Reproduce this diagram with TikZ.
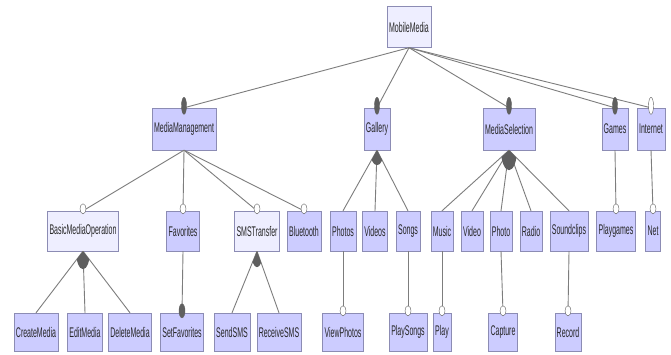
\documentclass[tikz,border=0pt]{standalone}
\usepackage{fontspec}
\newfontfamily\featfont{Liberation Sans}[FakeStretch=0.5]
\usepackage{tikz}
\usetikzlibrary{shapes.geometric, positioning}

\definecolor{featfill}{RGB}{204,204,255}
\definecolor{rootfill}{RGB}{238,238,255}
\definecolor{featline}{RGB}{140,140,180}
\definecolor{edgegray}{RGB}{125,125,125}
\definecolor{markgray}{RGB}{95,95,95}

\begin{document}
\begin{tikzpicture}[
    x=1pt, y=-1pt,
    feature/.style={rectangle, draw=featline, fill=featfill, minimum height=40pt, inner xsep=2pt, font=\featfont\fontsize{14}{16}\selectfont, text=black!85},
    plain/.style={feature, fill=rootfill},
    edge/.style={draw=edgegray, line width=0.9pt},
    mandatory/.style={ellipse, draw=markgray, fill=markgray, inner sep=0pt, minimum width=6pt, minimum height=10pt, yshift=2pt},
    optional/.style={mandatory, fill=white},
    topmark/.style={minimum width=5pt, minimum height=17pt, yshift=0pt},
    group/.style={fill=markgray}
]
\useasboundingbox[fill=white] (0,0) rectangle (671,354);

% root
\node[plain, minimum height=41pt] (mobilemedia) at (409,27) {MobileMedia};

% level 1
\node[feature, minimum height=42pt] (mediamgmt) at (184,129) {MediaManagement};
\node[feature, minimum height=42pt] (gallery) at (377,129) {Gallery};
\node[feature, minimum height=42pt] (mediasel) at (509,129) {MediaSelection};
\node[feature, minimum height=42pt] (games) at (615,129) {Games};
\node[feature, minimum height=42pt] (internet) at (651,129) {Internet};

% level 2
\node[plain] (basicop) at (83,231) {BasicMediaOperation};
\node[feature] (favorites) at (183,231) {Favorites};
\node[plain] (smstransfer) at (257,231) {SMSTransfer};
\node[feature] (bluetooth) at (304,231) {Bluetooth};
\node[feature] (photos) at (343,231) {Photos};
\node[feature] (videos) at (375,231) {Videos};
\node[feature] (songs) at (408,231) {Songs};
\node[feature] (music) at (442,231) {Music};
\node[feature] (video) at (472,231) {Video};
\node[feature] (photo) at (501,231) {Photo};
\node[feature] (radio) at (531,231) {Radio};
\node[feature] (soundclips) at (569,231) {Soundclips};
\node[feature] (playgames) at (616,231) {Playgames};
\node[feature] (net) at (653,231) {Net};

% level 3
\node[feature, minimum height=38pt] (createmedia) at (36,332) {CreateMedia};
\node[feature, minimum height=38pt] (editmedia) at (85,332) {EditMedia};
\node[feature, minimum height=38pt] (deletemedia) at (130,332) {DeleteMedia};
\node[feature, minimum height=38pt] (setfav) at (182,332) {SetFavorites};
\node[feature, minimum height=38pt] (sendsms) at (232,332) {SendSMS};
\node[feature, minimum height=38pt] (receivesms) at (279,332) {ReceiveSMS};
\node[feature, minimum height=38pt] (viewphotos) at (343,332) {ViewPhotos};
\node[feature, minimum height=38pt] (playsongs) at (408,332) {PlaySongs};
\node[feature, minimum height=38pt] (play) at (442,332) {Play};
\node[feature, minimum height=38pt] (capture) at (503,332) {Capture};
\node[feature, minimum height=38pt] (record) at (568,332) {Record};

% Edges
\draw[edge] (mobilemedia.south) -- (mediamgmt.north);
\draw[edge] (mobilemedia.south) -- (gallery.north);
\draw[edge] (mobilemedia.south) -- (mediasel.north);
\draw[edge] (mobilemedia.south) -- (games.north);
\draw[edge] (mobilemedia.south) -- (internet.north);

\draw[edge] (mediamgmt.south) -- (basicop.north);
\draw[edge] (mediamgmt.south) -- (favorites.north);
\draw[edge] (mediamgmt.south) -- (smstransfer.north);
\draw[edge] (mediamgmt.south) -- (bluetooth.north);
\draw[edge] (gallery.south) -- (photos.north);
\draw[edge] (gallery.south) -- (videos.north);
\draw[edge] (gallery.south) -- (songs.north);
\draw[edge] (mediasel.south) -- (music.north);
\draw[edge] (mediasel.south) -- (video.north);
\draw[edge] (mediasel.south) -- (photo.north);
\draw[edge] (mediasel.south) -- (radio.north);
\draw[edge] (mediasel.south) -- (soundclips.north);
\draw[edge] (games.south) -- (playgames.north);
\draw[edge] (internet.south) -- (net.north);

\draw[edge] (basicop.south) -- (createmedia.north);
\draw[edge] (basicop.south) -- (editmedia.north);
\draw[edge] (basicop.south) -- (deletemedia.north);
\draw[edge] (favorites.south) -- (setfav.north);
\draw[edge] (smstransfer.south) -- (sendsms.north);
\draw[edge] (smstransfer.south) -- (receivesms.north);
\draw[edge] (photos.south) -- (viewphotos.north);
\draw[edge] (songs.south) -- (playsongs.north);
\draw[edge] (music.south) -- (play.north);
\draw[edge] (photo.south) -- (capture.north);
\draw[edge] (soundclips.south) -- (record.north);

% Or-groups
\begin{scope}
  \clip (gallery.south) ellipse (7pt and 15pt);
  \fill[group] (gallery.south) -- (photos.north) -- (songs.north) -- cycle;
\end{scope}
\begin{scope}
  \clip (mediasel.south) ellipse (8pt and 20pt);
  \fill[group] (mediasel.south) -- (music.north) -- (soundclips.north) -- cycle;
\end{scope}
\begin{scope}
  \clip (basicop.south) ellipse (7pt and 18pt);
  \fill[group] (basicop.south) -- (createmedia.north) -- (deletemedia.north) -- cycle;
\end{scope}
\begin{scope}
  \clip (smstransfer.south) ellipse (6pt and 16pt);
  \fill[group] (smstransfer.south) -- (sendsms.north) -- (receivesms.north) -- cycle;
\end{scope}

% Markers
\node[mandatory, topmark] (m-mediamgmt) at (mediamgmt.north) {};
\node[mandatory, topmark] (m-gallery) at (gallery.north) {};
\node[mandatory, topmark] (m-mediasel) at (mediasel.north) {};
\node[mandatory, topmark] (m-games) at (games.north) {};
\node[optional, topmark] (m-internet) at (internet.north) {};

\node[optional] (m-basicop) at (basicop.north) {};
\node[optional] (m-favorites) at (favorites.north) {};
\node[optional] (m-smstransfer) at (smstransfer.north) {};
\node[optional] (m-bluetooth) at (bluetooth.north) {};
\node[optional] (m-playgames) at (playgames.north) {};
\node[optional] (m-net) at (net.north) {};

\node[mandatory, minimum height=14pt] (m-setfav) at (setfav.north) {};
\node[optional] (m-viewphotos) at (viewphotos.north) {};
\node[optional] (m-playsongs) at (playsongs.north) {};
\node[optional] (m-play) at (play.north) {};
\node[optional] (m-capture) at (capture.north) {};
\node[optional] (m-record) at (record.north) {};

\end{tikzpicture}
\end{document}
